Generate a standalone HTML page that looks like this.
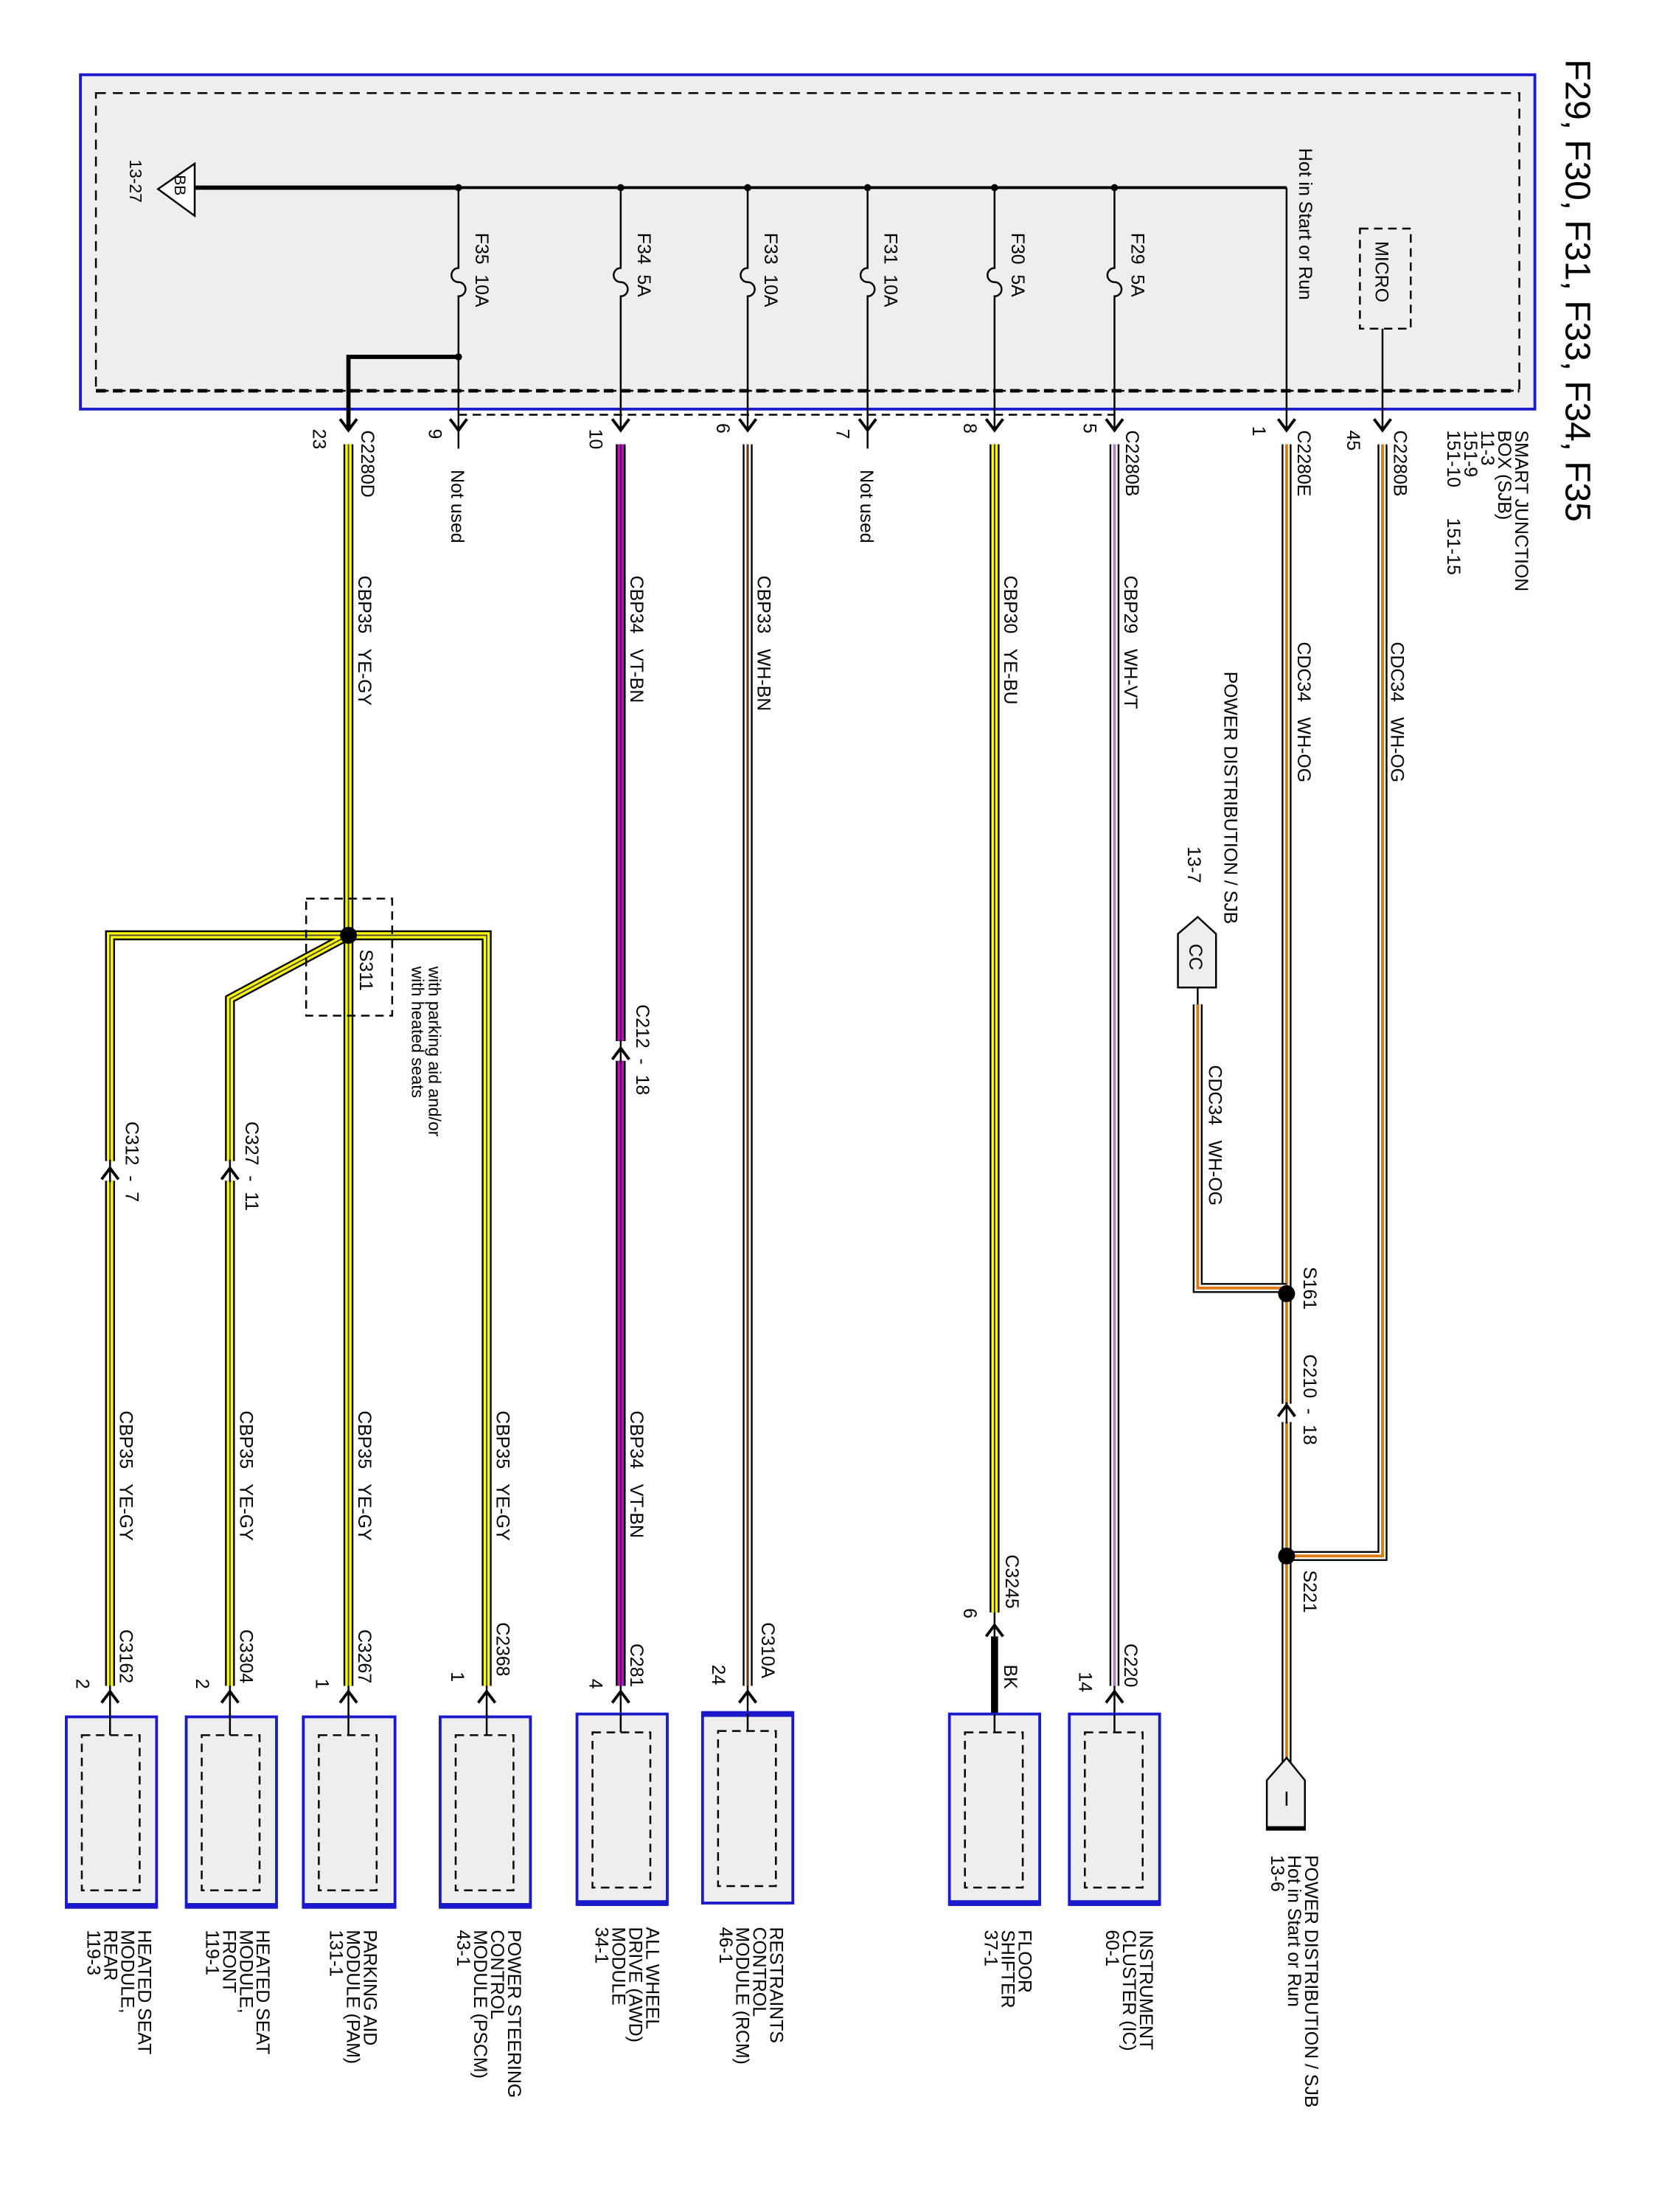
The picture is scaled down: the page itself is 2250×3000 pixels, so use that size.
<!DOCTYPE html>
<html><head><meta charset="utf-8"><style>
html,body{margin:0;padding:0;background:#fff}
svg{display:block}
text{font-family:"Liberation Sans",sans-serif;font-size:13px;fill:#000;white-space:pre}
.t{fill:none;stroke:#000;stroke-width:1.3}
</style></head><body>
<svg width="2250" height="3000" viewBox="0 0 1176 1568" xmlns="http://www.w3.org/2000/svg" xml:space="preserve">
<!-- SJB box -->
<rect x="57" y="53" width="1031" height="237" fill="#eeeeee" stroke="#1a1acc" stroke-width="2"/>
<rect x="68" y="66" width="1009" height="211" fill="none" stroke="#000" stroke-width="1.3" stroke-dasharray="7,5"/>
<line x1="68" y1="277" x2="1077" y2="277" stroke="#000" stroke-width="2.5" stroke-dasharray="7,5"/>
<line x1="325" y1="294" x2="790" y2="294" stroke="#000" stroke-width="1.3" stroke-dasharray="6,4"/>
<!-- BB -->
<polygon points="138,116 112,134 138,153" fill="#fff" stroke="#000" stroke-width="1.3"/>
<text transform="translate(124,124) rotate(90)" style="font-size:11px">BB</text>
<text transform="translate(92,113) rotate(90)" style="font-size:12px">13-27</text>
<line x1="138" y1="133" x2="325" y2="133" stroke="#000" stroke-width="3"/>
<line x1="325" y1="133" x2="912" y2="133" stroke="#000" stroke-width="2"/>
<text transform="translate(921,105) rotate(90)">Hot in Start or Run</text>
<line x1="912" y1="133" x2="912" y2="305" class="t"/>
<!-- MICRO -->
<rect x="964" y="162" width="36" height="71" fill="none" stroke="#000" stroke-width="1.3" stroke-dasharray="6,4"/>
<text transform="translate(975,171) rotate(90)">MICRO</text>
<line x1="980" y1="233" x2="980" y2="305" class="t"/>
<!-- fuses -->
<g class="t">
<path d="M325,133 V190 a5,5 0 0 0 0,10 a5,5 0 0 1 0,10 V305"/>
<path d="M440,133 V190 a5,5 0 0 0 0,10 a5,5 0 0 1 0,10 V305"/>
<path d="M530,133 V190 a5,5 0 0 0 0,10 a5,5 0 0 1 0,10 V305"/>
<path d="M615,133 V190 a5,5 0 0 0 0,10 a5,5 0 0 1 0,10 V305"/>
<path d="M705,133 V190 a5,5 0 0 0 0,10 a5,5 0 0 1 0,10 V305"/>
<path d="M790,133 V190 a5,5 0 0 0 0,10 a5,5 0 0 1 0,10 V305"/>
</g>
<g fill="#000"><circle cx="325" cy="133" r="2.5"/><circle cx="440" cy="133" r="2.5"/><circle cx="530" cy="133" r="2.5"/><circle cx="615" cy="133" r="2.5"/><circle cx="705" cy="133" r="2.5"/><circle cx="790" cy="133" r="2.5"/><circle cx="325" cy="253" r="2.5"/></g>
<path d="M325,253 H247 V305" fill="none" stroke="#000" stroke-width="3"/>
<text transform="translate(337,165) rotate(90)">F35  10A</text>
<text transform="translate(452,165) rotate(90)">F34  5A</text>
<text transform="translate(542,165) rotate(90)">F33  10A</text>
<text transform="translate(627,165) rotate(90)">F31  10A</text>
<text transform="translate(717,165) rotate(90)">F30  5A</text>
<text transform="translate(802,165) rotate(90)">F29  5A</text>
<!-- top arrows -->
<g fill="none" stroke="#000" stroke-width="2">
<path d="M241,297 L247,305 L253,297"/><path d="M319,297 L325,305 L331,297"/><path d="M434,297 L440,305 L446,297"/><path d="M524,297 L530,305 L536,297"/><path d="M609,297 L615,305 L621,297"/><path d="M699,297 L705,305 L711,297"/><path d="M784,297 L790,305 L796,297"/><path d="M906,297 L912,305 L918,297"/><path d="M974,297 L980,305 L986,297"/>
</g>
<line x1="325" y1="305" x2="325" y2="318" class="t"/><line x1="615" y1="305" x2="615" y2="318" class="t"/>
<text transform="translate(222,304) rotate(90)">23</text>
<text transform="translate(304,304) rotate(90)">9</text>
<text transform="translate(418,304) rotate(90)">10</text>
<text transform="translate(508,300) rotate(90)">6</text>
<text transform="translate(593,304) rotate(90)">7</text>
<text transform="translate(683,300) rotate(90)">8</text>
<text transform="translate(768,300) rotate(90)">5</text>
<text transform="translate(888,302) rotate(90)">1</text>
<text transform="translate(955,305) rotate(90)">45</text>
<text transform="translate(256,305) rotate(90)">C2280D</text>
<text transform="translate(798,305) rotate(90)">C2280B</text>
<text transform="translate(920,305) rotate(90)">C2280E</text>
<text transform="translate(988,305) rotate(90)">C2280B</text>
<text transform="translate(320,333) rotate(90)">Not used</text>
<text transform="translate(610,333) rotate(90)">Not used</text>
<!-- title / SJB -->
<text transform="translate(1110,42) rotate(90)" style="font-size:25px">F29, F30, F31, F33, F34, F35</text>
<text transform="translate(1074,305) rotate(90)">SMART JUNCTION</text>
<text transform="translate(1062,305) rotate(90)">BOX (SJB)</text>
<text transform="translate(1050,305) rotate(90)">11-3</text>
<text transform="translate(1038,305) rotate(90)">151-9</text>
<text transform="translate(1026,305) rotate(90)">151-10      151-15</text>

<!-- orange wires -->
<g fill="none">
<path d="M980,315 V1103 H912" stroke="#000" stroke-width="7"/>
<path d="M980,315 V1103 H912" stroke="#fff" stroke-width="4.5"/>
<path d="M980,315 V1103 H912" stroke="#e07a10" stroke-width="2"/>
<path d="M912,315 V995 M912,1008 V1250" stroke="#000" stroke-width="7"/>
<path d="M912,315 V995 M912,1008 V1250" stroke="#fff" stroke-width="4.5"/>
<path d="M912,315 V995 M912,1008 V1250" stroke="#e07a10" stroke-width="2"/>
<path d="M849,712 V913 H912" stroke="#000" stroke-width="7"/>
<path d="M849,712 V913 H912" stroke="#fff" stroke-width="4.5"/>
<path d="M849,712 V913 H912" stroke="#e07a10" stroke-width="2"/>
</g>
<line x1="849" y1="700" x2="849" y2="712" class="t"/>
<line x1="912" y1="994" x2="912" y2="1009" class="t"/>
<path d="M906,1004 L912,996 L918,1004" fill="none" stroke="#000" stroke-width="2"/>
<circle cx="912" cy="917" r="6" fill="#000"/>
<circle cx="912" cy="1103" r="6" fill="#000"/>
<text transform="translate(924,898) rotate(90)">S161</text>
<text transform="translate(924,960) rotate(90)">C210  -  18</text>
<text transform="translate(924,1113) rotate(90)">S221</text>
<text transform="translate(986,455) rotate(90)">CDC34   WH-OG</text>
<text transform="translate(920,455) rotate(90)">CDC34   WH-OG</text>
<text transform="translate(857,755) rotate(90)">CDC34   WH-OG</text>
<text transform="translate(868,476) rotate(90)">POWER DISTRIBUTION / SJB</text>
<text transform="translate(842,600) rotate(90)">13-7</text>
<!-- CC connector -->
<path d="M835,662 L849,650 L862,662 V700 H835 Z" fill="#eee" stroke="#000" stroke-width="1.3"/>
<text transform="translate(843,669) rotate(90)">CC</text>
<!-- I connector -->
<path d="M898,1262 L912,1246 L925,1262 V1297 H898 Z" fill="#eee" stroke="#000" stroke-width="1.3"/>
<line x1="898" y1="1296" x2="925" y2="1296" stroke="#000" stroke-width="3"/>
<line x1="912" y1="1270" x2="912" y2="1280" stroke="#000" stroke-width="1.3"/>
<text transform="translate(925,1315) rotate(90)">POWER DISTRIBUTION / SJB</text>
<text transform="translate(913,1315) rotate(90)">Hot in Start or Run</text>
<text transform="translate(901,1315) rotate(90)">13-6</text>

<!-- WH-VT -->
<path d="M790,315 V1195" fill="none" stroke="#000" stroke-width="7"/>
<path d="M790,315 V1195" fill="none" stroke="#fff" stroke-width="4.5"/>
<path d="M790,315 V1195" fill="none" stroke="#b080d0" stroke-width="2"/>
<text transform="translate(797,408) rotate(90)">CBP29   WH-VT</text>
<text transform="translate(797,1165) rotate(90)">C220</text>
<text transform="translate(765,1185) rotate(90)">14</text>
<!-- YE-BU -->
<path d="M705,315 V1143" fill="none" stroke="#000" stroke-width="7"/>
<path d="M705,315 V1143" fill="none" stroke="#ff0" stroke-width="4.5"/>
<path d="M705,315 V1143" fill="none" stroke="#333" stroke-width="1"/>
<line x1="705" y1="1143" x2="705" y2="1160" class="t"/>
<line x1="705" y1="1160" x2="705" y2="1215" stroke="#000" stroke-width="5"/>
<text transform="translate(712,408) rotate(90)">CBP30   YE-BU</text>
<text transform="translate(713,1102) rotate(90)">C3245</text>
<text transform="translate(683,1140) rotate(90)">6</text>
<text transform="translate(712,1180) rotate(90)">BK</text>
<path d="M699,1160 L705,1152 L711,1160" fill="none" stroke="#000" stroke-width="2"/>
<!-- WH-BN -->
<path d="M530,315 V1195" fill="none" stroke="#000" stroke-width="7"/>
<path d="M530,315 V1195" fill="none" stroke="#fff" stroke-width="4.5"/>
<path d="M530,315 V1195" fill="none" stroke="#6b3a10" stroke-width="1.6"/>
<text transform="translate(537,408) rotate(90)">CBP33   WH-BN</text>
<text transform="translate(540,1150) rotate(90)">C310A</text>
<text transform="translate(505,1180) rotate(90)">24</text>
<!-- VT-BN -->
<path d="M440,315 V738 M440,752 V1195" fill="none" stroke="#000" stroke-width="7"/>
<path d="M440,315 V738 M440,752 V1195" fill="none" stroke="#c010c0" stroke-width="4.5"/>
<path d="M440,315 V738 M440,752 V1195" fill="none" stroke="#400040" stroke-width="1"/>
<line x1="440" y1="737" x2="440" y2="753" class="t"/>
<path d="M434,751 L440,743 L446,751" fill="none" stroke="#000" stroke-width="2"/>
<text transform="translate(451,712) rotate(90)">C212  -  18</text>
<text transform="translate(447,408) rotate(90)">CBP34   VT-BN</text>
<text transform="translate(447,1000) rotate(90)">CBP34   VT-BN</text>
<text transform="translate(447,1165) rotate(90)">C281</text>
<text transform="translate(418,1190) rotate(90)">4</text>
<!-- YE-GY -->
<g fill="none">
<path d="M247,315 V1195 M247,663 H345 V1195 M247,663 L163,708 V823 M163,837 V1195 M247,663 H78 V823 M78,837 V1195" stroke="#000" stroke-width="7"/>
<path d="M247,315 V1195 M247,663 H345 V1195 M247,663 L163,708 V823 M163,837 V1195 M247,663 H78 V823 M78,837 V1195" stroke="#ff0" stroke-width="4.5"/>
<path d="M247,315 V1195 M247,663 H345 V1195 M247,663 L163,708 V823 M163,837 V1195 M247,663 H78 V823 M78,837 V1195" stroke="#444" stroke-width="1"/>
</g>
<line x1="163" y1="822" x2="163" y2="838" class="t"/><line x1="78" y1="822" x2="78" y2="838" class="t"/>
<path d="M157,836 L163,828 L169,836 M72,836 L78,828 L84,836" fill="none" stroke="#000" stroke-width="2"/>
<circle cx="247" cy="663" r="6" fill="#000"/>
<rect x="217" y="637" width="61" height="83" fill="none" stroke="#000" stroke-width="1.3" stroke-dasharray="6,4"/>
<text transform="translate(255,673) rotate(90)">S311</text>
<text transform="translate(304,685) rotate(90)" style="font-size:12px">with parking aid and/or</text>
<text transform="translate(292,685) rotate(90)" style="font-size:12px">with heated seats</text>
<text transform="translate(254,408) rotate(90)">CBP35   YE-GY</text>
<text transform="translate(174,795) rotate(90)">C327  -  11</text>
<text transform="translate(89,795) rotate(90)">C312  -  7</text>
<text transform="translate(352,1000) rotate(90)">CBP35   YE-GY</text>
<text transform="translate(254,1000) rotate(90)">CBP35   YE-GY</text>
<text transform="translate(170,1000) rotate(90)">CBP35   YE-GY</text>
<text transform="translate(85,1000) rotate(90)">CBP35   YE-GY</text>
<text transform="translate(352,1150) rotate(90)">C2368</text>
<text transform="translate(254,1155) rotate(90)">C3267</text>
<text transform="translate(170,1155) rotate(90)">C3304</text>
<text transform="translate(85,1155) rotate(90)">C3162</text>
<text transform="translate(320,1185) rotate(90)">1</text>
<text transform="translate(224,1190) rotate(90)">1</text>
<text transform="translate(139,1190) rotate(90)">2</text>
<text transform="translate(54,1190) rotate(90)">2</text>

<!-- bottom arrows into modules -->
<g fill="none" stroke="#000" stroke-width="2">
<path d="M72,1207 L78,1199 L84,1207"/><path d="M157,1207 L163,1199 L169,1207"/><path d="M241,1207 L247,1199 L253,1207"/><path d="M339,1207 L345,1199 L351,1207"/><path d="M434,1207 L440,1199 L446,1207"/><path d="M524,1207 L530,1199 L536,1207"/><path d="M784,1207 L790,1199 L796,1207"/>
</g>
<g class="t"><path d="M78,1195 V1230 M163,1195 V1230 M247,1195 V1230 M345,1195 V1230 M440,1195 V1230 M530,1195 V1230 M790,1195 V1230"/></g>

<!-- module boxes -->
<g fill="#eeeeee" stroke="#1a1acc" stroke-width="2">
<rect x="47" y="1217" width="64" height="135"/><rect x="132" y="1217" width="64" height="135"/><rect x="215" y="1217" width="65" height="135"/><rect x="312" y="1217" width="64" height="135"/><rect x="409" y="1215" width="64" height="135"/><rect x="498" y="1214" width="64" height="135"/><rect x="673" y="1215" width="64" height="135"/><rect x="758" y="1215" width="64" height="135"/>
</g>
<g stroke="#1a1acc" stroke-width="4">
<path d="M47,1351 H111 M132,1351 H196 M215,1351 H280 M312,1351 H376 M409,1349 H473 M498,1215 H562 M673,1349 H737 M758,1349 H822"/>
</g>
<g fill="none" stroke="#000" stroke-width="1.3" stroke-dasharray="6,4">
<rect x="58" y="1230" width="41" height="110"/><rect x="143" y="1230" width="41" height="110"/><rect x="226" y="1230" width="41" height="110"/><rect x="323" y="1230" width="41" height="110"/><rect x="420" y="1228" width="41" height="110"/><rect x="509" y="1227" width="41" height="110"/><rect x="684" y="1228" width="41" height="110"/><rect x="769" y="1228" width="41" height="110"/>
</g>
<g class="t"><path d="M78,1215 V1230 M163,1215 V1230 M247,1215 V1230 M345,1215 V1230 M440,1215 V1228 M530,1215 V1227 M705,1215 V1228 M790,1215 V1228"/></g>
<!-- module labels -->
<g>
<text transform="translate(98,1368) rotate(90)">HEATED SEAT</text><text transform="translate(86,1368) rotate(90)">MODULE,</text><text transform="translate(74,1368) rotate(90)">REAR</text><text transform="translate(62,1368) rotate(90)">119-3</text>
<text transform="translate(182,1368) rotate(90)">HEATED SEAT</text><text transform="translate(170,1368) rotate(90)">MODULE,</text><text transform="translate(158,1368) rotate(90)">FRONT</text><text transform="translate(146,1368) rotate(90)">119-1</text>
<text transform="translate(258,1368) rotate(90)">PARKING AID</text><text transform="translate(246,1368) rotate(90)">MODULE (PAM)</text><text transform="translate(234,1368) rotate(90)">131-1</text>
<text transform="translate(360,1368) rotate(90)">POWER STEERING</text><text transform="translate(348,1368) rotate(90)">CONTROL</text><text transform="translate(336,1368) rotate(90)">MODULE (PSCM)</text><text transform="translate(324,1368) rotate(90)">43-1</text>
<text transform="translate(458,1366) rotate(90)">ALL WHEEL</text><text transform="translate(446,1366) rotate(90)">DRIVE (AWD)</text><text transform="translate(434,1366) rotate(90)">MODULE</text><text transform="translate(422,1366) rotate(90)">34-1</text>
<text transform="translate(546,1366) rotate(90)">RESTRAINTS</text><text transform="translate(534,1366) rotate(90)">CONTROL</text><text transform="translate(522,1366) rotate(90)">MODULE (RCM)</text><text transform="translate(510,1366) rotate(90)">46-1</text>
<text transform="translate(722,1368) rotate(90)">FLOOR</text><text transform="translate(710,1368) rotate(90)">SHIFTER</text><text transform="translate(698,1368) rotate(90)">37-1</text>
<text transform="translate(808,1368) rotate(90)">INSTRUMENT</text><text transform="translate(796,1368) rotate(90)">CLUSTER (IC)</text><text transform="translate(784,1368) rotate(90)">60-1</text>
</g>
</svg>
</body></html>
